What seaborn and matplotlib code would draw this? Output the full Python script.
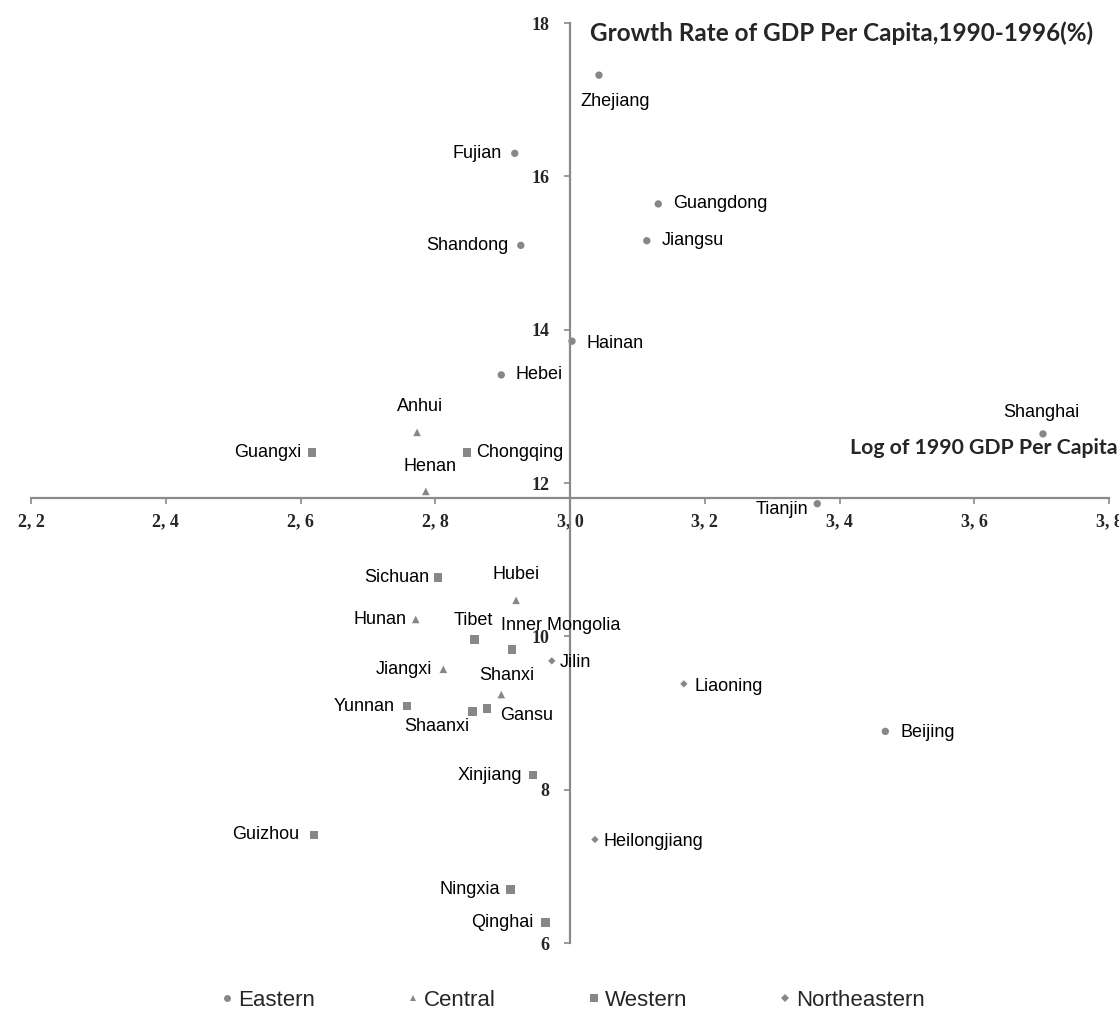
import matplotlib
matplotlib.use('Agg')
import matplotlib.pyplot as plt
import seaborn as sns
import pandas as pd
from matplotlib.lines import Line2D
from matplotlib.ticker import FuncFormatter

# data
provinces = ['Zhejiang', 'Fujian', 'Guangdong', 'Jiangsu', 'Shandong', 'Hainan', 'Hebei',
             'Shanghai', 'Tianjin', 'Beijing',
             'Anhui', 'Henan', 'Hubei', 'Hunan', 'Jiangxi', 'Shanxi',
             'Guangxi', 'Chongqing', 'Sichuan', 'Tibet', 'Inner Mongolia', 'Yunnan',
             'Shaanxi', 'Gansu', 'Xinjiang', 'Guizhou', 'Ningxia', 'Qinghai',
             'Jilin', 'Liaoning', 'Heilongjiang']
regions = ['Eastern'] * 10 + ['Central'] * 6 + ['Western'] * 12 + ['Northeastern'] * 3
log_gdp_1990 = [3.043, 2.918, 3.131, 3.114, 2.927, 3.003, 2.898, 3.702, 3.367, 3.468,
                2.773, 2.786, 2.920, 2.771, 2.812, 2.898,
                2.617, 2.847, 2.804, 2.858, 2.914, 2.758, 2.855, 2.877, 2.945, 2.620, 2.912, 2.964,
                2.973, 3.169, 3.037]
growth_rate = [17.32, 16.30, 15.64, 15.16, 15.10, 13.85, 13.41, 12.64, 11.73, 8.76,
               12.66, 11.89, 10.47, 10.22, 9.57, 9.24,
               12.40, 12.40, 10.77, 9.96, 9.83, 9.09, 9.02, 9.06, 8.19, 7.41, 6.70, 6.27,
               9.68, 9.38, 7.35]
region_order = ['Eastern', 'Central', 'Western', 'Northeastern']

df = pd.DataFrame({'province': provinces, 'region': regions,
                   'log_gdp': log_gdp_1990, 'growth': growth_rate})

# label placement: (dx px, dy px, ha)
label_pos = {
    'Zhejiang': (-19, -26, 'left'), 'Fujian': (-13, 0, 'right'),
    'Guangdong': (15, 0, 'left'), 'Jiangsu': (15, 0, 'left'),
    'Shandong': (-12, 0, 'right'), 'Hainan': (14, -2, 'left'),
    'Hebei': (14, 0, 'left'), 'Shanghai': (-2, 21, 'center'),
    'Tianjin': (-9, -6, 'right'), 'Beijing': (15, -1, 'left'),
    'Anhui': (3, 26, 'center'), 'Henan': (4, 25, 'center'),
    'Hubei': (0, 26, 'center'), 'Hunan': (-9, 0, 'right'),
    'Jiangxi': (-11, 0, 'right'), 'Shanxi': (5, 19, 'center'),
    'Guangxi': (-11, 0, 'right'), 'Chongqing': (9, 0, 'left'),
    'Sichuan': (-9, 0, 'right'), 'Tibet': (-1, 19, 'center'),
    'Inner Mongolia': (-11, 24, 'left'), 'Yunnan': (-12, 0, 'right'),
    'Shaanxi': (-3, -15, 'right'), 'Gansu': (13, -7, 'left'),
    'Xinjiang': (-11, 0, 'right'), 'Guizhou': (-15, 0, 'right'),
    'Ningxia': (-11, 0, 'right'), 'Qinghai': (-12, 0, 'right'),
    'Jilin': (8, -2, 'left'), 'Liaoning': (11, -3, 'left'),
    'Heilongjiang': (9, -2, 'left'),
}

markers = {'Eastern': 'o', 'Central': '^', 'Western': 's', 'Northeastern': 'D'}
sizes = {'Eastern': 28, 'Central': 30, 'Western': 38, 'Northeastern': 14}
grey = '#878787'
axis_grey = '#8a8a8a'

sns.set_style('white')
plt.rcParams['font.family'] = ['Liberation Sans', 'DejaVu Sans']

fig = plt.figure(figsize=(11.19, 10.17), dpi=100)
ax = fig.add_axes([31 / 1119, 1 - 943 / 1017, (1109 - 31) / 1119, (943 - 23) / 1017])

for reg in region_order:
    sns.scatterplot(data=df[df['region'] == reg], x='log_gdp', y='growth',
                    marker=markers[reg], s=sizes[reg], color=grey,
                    edgecolor='none', linewidth=0, ax=ax, legend=False)

for _, row in df.iterrows():
    dx, dy, ha = label_pos[row['province']]
    ax.annotate(row['province'], (row['log_gdp'], row['growth']),
                xytext=(dx, dy), textcoords='offset pixels',
                ha=ha, va='center', fontsize=13, color='black')

ax.set_xlim(2.2, 3.8)
ax.set_ylim(6, 18)
ax.set_xticks([2.2, 2.4, 2.6, 2.8, 3.0, 3.2, 3.4, 3.6, 3.8])
ax.set_yticks([6, 8, 10, 12, 14, 16, 18])
ax.xaxis.set_major_formatter(FuncFormatter(lambda v, p: f'{v:.1f}'.replace('.', ', ')))
ax.set_xlabel('')
ax.set_ylabel('')

for side in ['top', 'right']:
    ax.spines[side].set_visible(False)
ax.spines['left'].set_position(('data', 3.0))
ax.spines['bottom'].set_position(('data', 11.8))
for side in ['left', 'bottom']:
    ax.spines[side].set_color(axis_grey)
    ax.spines[side].set_linewidth(1.6)

ax.tick_params(axis='both', direction='out', length=4, width=1.2, color=axis_grey,
               labelsize=13)
ax.tick_params(axis='y', left=True, pad=11)
ax.tick_params(axis='x', bottom=True, pad=7)
for lab in ax.get_xticklabels() + ax.get_yticklabels():
    lab.set_fontfamily('Liberation Serif')
    lab.set_fontweight('bold')

fig.text(590 / 1119, 1 - 33 / 1017, 'Growth Rate of GDP Per Capita,1990-1996(%)',
         ha='left', va='center', fontsize=17.5, fontweight='bold', family='Lato')
fig.text(1117 / 1119, 1 - 448 / 1017, 'Log of 1990 GDP Per Capita',
         ha='right', va='center', fontsize=15.3, fontweight='bold', family='Lato')

handles = [Line2D([], [], linestyle='none', marker=markers[r], color=grey,
                  markeredgewidth=0, markersize={'Eastern': 5, 'Central': 5,
                                                 'Western': 6, 'Northeastern': 4}[r],
                  label=r) for r in region_order]
fig.legend(handles=handles, loc='center', bbox_to_anchor=(573 / 1119, 1 - 1000 / 1017),
           ncol=4, frameon=False, fontsize=16, handlelength=0.6, handletextpad=0.2,
           columnspacing=4.1)

fig.savefig('out.png', dpi=100)
